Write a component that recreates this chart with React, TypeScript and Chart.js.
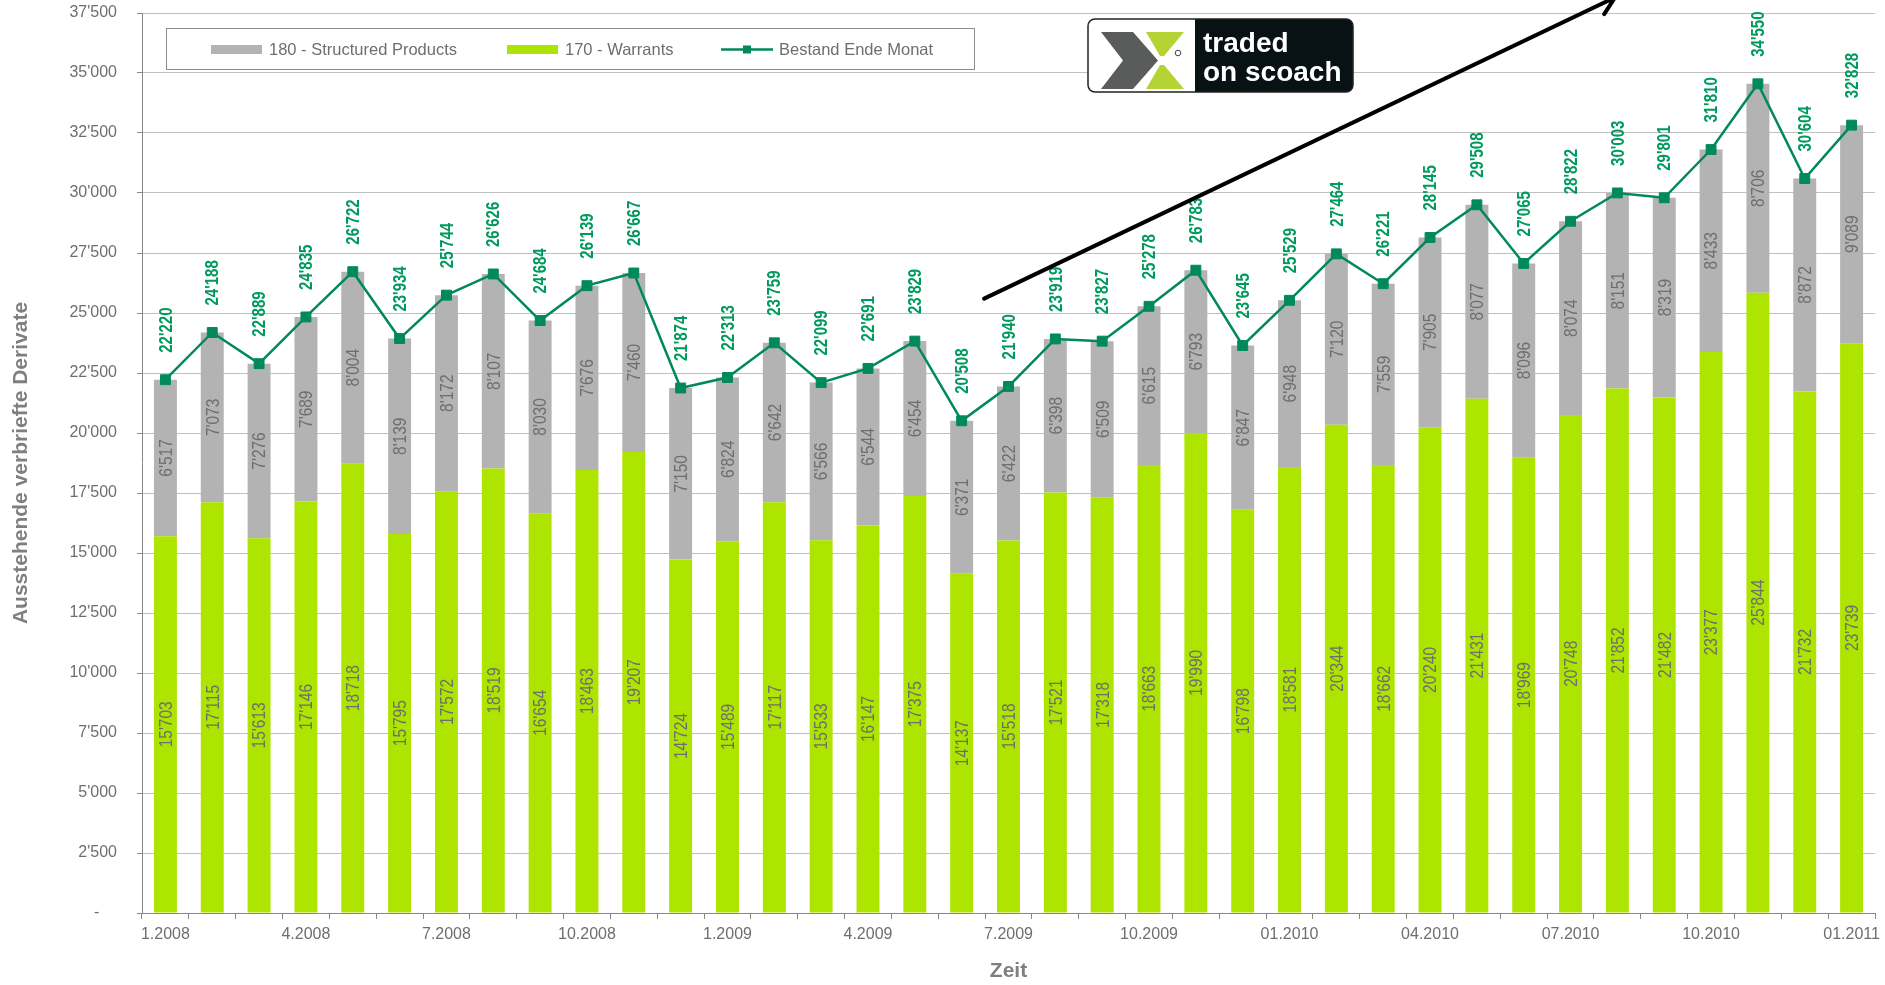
import React, { useEffect, useRef } from "react";
import { Chart, registerables } from "chart.js";

Chart.register(...registerables);

const FONT = "'Liberation Sans', Arial, Helvetica, sans-serif";

const months = [
  "1.2008", "2.2008", "3.2008", "4.2008", "5.2008", "6.2008", "7.2008", "8.2008", "9.2008", "10.2008", "11.2008", "12.2008",
  "1.2009", "2.2009", "3.2009", "4.2009", "5.2009", "6.2009", "7.2009", "8.2009", "9.2009", "10.2009", "11.2009", "12.2009",
  "01.2010", "02.2010", "03.2010", "04.2010", "05.2010", "06.2010", "07.2010", "08.2010", "09.2010", "10.2010", "11.2010", "12.2010",
  "01.2011",
];

const warrants = [
  15703, 17115, 15613, 17146, 18718, 15795, 17572, 18519, 16654, 18463, 19207, 14724,
  15489, 17117, 15533, 16147, 17375, 14137, 15518, 17521, 17318, 18663, 19990, 16798,
  18581, 20344, 18662, 20240, 21431, 18969, 20748, 21852, 21482, 23377, 25844, 21732,
  23739,
];

const structured = [
  6517, 7073, 7276, 7689, 8004, 8139, 8172, 8107, 8030, 7676, 7460, 7150,
  6824, 6642, 6566, 6544, 6454, 6371, 6422, 6398, 6509, 6615, 6793, 6847,
  6948, 7120, 7559, 7905, 8077, 8096, 8074, 8151, 8319, 8433, 8706, 8872,
  9089,
];

const totals = [
  22220, 24188, 22889, 24835, 26722, 23934, 25744, 26626, 24684, 26139, 26667, 21874,
  22313, 23759, 22099, 22691, 23829, 20508, 21940, 23919, 23827, 25278, 26783, 23645,
  25529, 27464, 26221, 28145, 29508, 27065, 28822, 30003, 29801, 31810, 34550, 30604,
  32828,
];

const seriesNames = ["180 - Structured Products", "170 - Warrants", "Bestand Ende Monat"];
const yTitle = "Ausstehende verbriefte Derivate";
const xTitle = "Zeit";

// arrow annotation anchored in data space: [categoryIndex, value]
const arrowFrom = [17.48, 25600];
const arrowTo = [30.95, 38150];

const GREEN = "#ade500";
const GREY = "#b3b3b3";
const LINE = "#008a5a";
const LABEL_GREEN = "#009a5e";
const TEXT_GREY = "#6e6e6e";
const STRETCH = 1.2;

const fmt = (n: number) => String(Math.round(n)).replace(/\B(?=(\d{3})+(?!\d))/g, "'");

const overlayPlugin = {
  id: "overlay",
  afterDatasetsDraw(chart: any) {
    const ctx = chart.ctx as CanvasRenderingContext2D;
    // inner bar labels
    [0, 1].forEach((di) => {
      const meta = chart.getDatasetMeta(di);
      const vals = chart.data.datasets[di].data as number[];
      meta.data.forEach((bar: any, i: number) => {
        const { x, y, base } = bar.getProps(["x", "y", "base"], true);
        const cy = (y + base) / 2;
        ctx.save();
        ctx.translate(x, cy);
        ctx.rotate(-Math.PI / 2);
        ctx.scale(1, STRETCH);
        ctx.font = `15.5px ${FONT}`;
        ctx.fillStyle = TEXT_GREY;
        ctx.textAlign = "center";
        ctx.textBaseline = "middle";
        ctx.fillText(fmt(vals[i]), 0, 1);
        ctx.restore();
      });
    });
    // totals above line points
    const lm = chart.getDatasetMeta(2);
    const tv = chart.data.datasets[2].data as number[];
    lm.data.forEach((pt: any, i: number) => {
      ctx.save();
      ctx.translate(pt.x, pt.y - 27);
      ctx.rotate(-Math.PI / 2);
      ctx.scale(1, STRETCH);
      ctx.font = `bold 15px ${FONT}`;
      ctx.fillStyle = LABEL_GREEN;
      ctx.textAlign = "left";
      ctx.textBaseline = "middle";
      ctx.fillText(fmt(tv[i]), 0, 1);
      ctx.restore();
    });
  },
  afterDraw(chart: any) {
    const ctx = chart.ctx as CanvasRenderingContext2D;
    const xs = chart.scales.x;
    const ys = chart.scales.y;

    // arrow
    const x1 = xs.getPixelForValue(arrowFrom[0]);
    const y1 = ys.getPixelForValue(arrowFrom[1]);
    const x2 = xs.getPixelForValue(arrowTo[0]);
    const y2 = ys.getPixelForValue(arrowTo[1]);
    ctx.save();
    ctx.strokeStyle = "#000";
    ctx.lineWidth = 4;
    ctx.lineCap = "round";
    ctx.beginPath();
    ctx.moveTo(x1, y1);
    ctx.lineTo(x2, y2);
    const ang = Math.atan2(y2 - y1, x2 - x1);
    const hl = 20;
    ctx.moveTo(x2, y2);
    ctx.lineTo(x2 - hl * Math.cos(ang - 0.55), y2 - hl * Math.sin(ang - 0.55));
    ctx.moveTo(x2, y2);
    ctx.lineTo(x2 - hl * Math.cos(ang + 0.55), y2 - hl * Math.sin(ang + 0.55));
    ctx.stroke();
    ctx.restore();

    // legend box
    ctx.save();
    ctx.fillStyle = "#fff";
    ctx.fillRect(166.5, 28.5, 808, 41);
    ctx.strokeStyle = "#8c8c8c";
    ctx.lineWidth = 1;
    ctx.strokeRect(166.5, 28.5, 808, 41);
    ctx.font = `16.5px ${FONT}`;
    ctx.textBaseline = "middle";
    ctx.textAlign = "left";
    ctx.fillStyle = GREY;
    ctx.fillRect(211, 45, 51, 9);
    ctx.fillStyle = TEXT_GREY;
    ctx.fillText(seriesNames[0], 269, 50);
    ctx.fillStyle = GREEN;
    ctx.fillRect(507, 45, 51, 9);
    ctx.fillStyle = TEXT_GREY;
    ctx.fillText(seriesNames[1], 565, 50);
    ctx.strokeStyle = LINE;
    ctx.lineWidth = 2.5;
    ctx.beginPath();
    ctx.moveTo(721, 49.5);
    ctx.lineTo(773, 49.5);
    ctx.stroke();
    ctx.fillStyle = LINE;
    ctx.fillRect(743, 45.5, 8, 8);
    ctx.fillStyle = TEXT_GREY;
    ctx.fillText(seriesNames[2], 779, 50);
    ctx.restore();

    // logo
    ctx.save();
    const lx = 1088, ly = 19, lw = 265, lh = 73, r = 7;
    ctx.beginPath();
    ctx.roundRect(lx, ly, lw, lh, r);
    ctx.fillStyle = "#fff";
    ctx.fill();
    ctx.beginPath();
    ctx.roundRect(1195, ly, lx + lw - 1195, lh, [0, r, r, 0]);
    ctx.fillStyle = "#081214";
    ctx.fill();
    ctx.beginPath();
    ctx.roundRect(lx, ly, lw, lh, r);
    ctx.strokeStyle = "#222";
    ctx.lineWidth = 1.5;
    ctx.stroke();
    // lime chevrons
    ctx.fillStyle = "#b5d334";
    ctx.beginPath();
    ctx.moveTo(1146, 32); ctx.lineTo(1184, 32); ctx.lineTo(1164, 56); ctx.lineTo(1160, 56);
    ctx.closePath();
    ctx.fill();
    ctx.beginPath();
    ctx.moveTo(1146, 89); ctx.lineTo(1184, 89); ctx.lineTo(1164, 65); ctx.lineTo(1160, 65);
    ctx.closePath();
    ctx.fill();
    // grey chevron
    ctx.fillStyle = "#5a5c5c";
    ctx.beginPath();
    ctx.moveTo(1101, 32); ctx.lineTo(1133, 32); ctx.lineTo(1158, 60.5); ctx.lineTo(1133, 89);
    ctx.lineTo(1101, 89); ctx.lineTo(1123, 60.5);
    ctx.closePath();
    ctx.fill();
    // registered mark
    ctx.strokeStyle = "#444";
    ctx.lineWidth = 1;
    ctx.beginPath();
    ctx.arc(1178, 53, 2.8, 0, Math.PI * 2);
    ctx.stroke();
    // text
    ctx.fillStyle = "#fff";
    ctx.textAlign = "left";
    ctx.textBaseline = "alphabetic";
    ctx.font = `bold 28px ${FONT}`;
    ctx.fillText("traded", 1203, 51.5);
    ctx.fillText("on scoach", 1203, 81);
    ctx.restore();
  },
};

export default function App() {
  const ref = useRef<HTMLCanvasElement | null>(null);

  useEffect(() => {
    document.body.style.margin = "0";
    const canvas = ref.current;
    if (!canvas) return;
    Chart.defaults.font.family = FONT;
    const chart = new Chart(canvas, {
      type: "bar",
      data: {
        labels: months,
        datasets: [
          {
            type: "bar",
            label: seriesNames[1],
            data: warrants,
            backgroundColor: GREEN,
            stack: "s",
            order: 1,
            categoryPercentage: 1,
            barPercentage: 0.49,
          },
          {
            type: "bar",
            label: seriesNames[0],
            data: structured,
            backgroundColor: GREY,
            stack: "s",
            order: 1,
            categoryPercentage: 1,
            barPercentage: 0.49,
          },
          {
            type: "line",
            label: seriesNames[2],
            data: totals,
            borderColor: LINE,
            backgroundColor: LINE,
            borderWidth: 2.5,
            pointStyle: "rect",
            pointRadius: 7,
            pointBorderWidth: 1,
            pointBackgroundColor: LINE,
            pointBorderColor: LINE,
            tension: 0,
            order: 0,
          } as any,
        ],
      },
      options: {
        responsive: false,
        maintainAspectRatio: false,
        animation: false,
        devicePixelRatio: 1,
        layout: { padding: { top: 13, right: 10, left: 0, bottom: 0 } },
        plugins: {
          legend: { display: false },
          tooltip: { enabled: false },
        },
        scales: {
          x: {
            stacked: true,
            offset: true,
            grid: {
              display: true,
              drawOnChartArea: false,
              drawTicks: true,
              tickLength: 6,
              offset: true,
              color: "#888",
            },
            border: { display: true, color: "#888", width: 1 },
            ticks: {
              autoSkip: false,
              maxRotation: 0,
              minRotation: 0,
              padding: 6,
              color: TEXT_GREY,
              font: { size: 16, family: FONT },
              callback: (_v: any, i: number) => (i % 3 === 0 ? months[i] : ""),
            },
            title: {
              display: true,
              text: xTitle,
              color: "#7f7f7f",
              font: { size: 21, weight: "bold", family: FONT },
              padding: { top: 0, bottom: 1 },
            },
            afterFit: (s: any) => {
              s.height = 72;
              s.paddingLeft = 0;
              s.paddingRight = 0;
            },
          },
          y: {
            stacked: true,
            min: 0,
            max: 37500,
            grid: {
              color: "#c0c0c0",
              tickColor: "#888",
              tickLength: 5,
              drawTicks: true,
            },
            border: { display: true, color: "#888", width: 1 },
            ticks: {
              stepSize: 2500,
              padding: 20,
              color: TEXT_GREY,
              font: { size: 16, family: FONT },
              callback: (v: any) => (Number(v) === 0 ? "-    " : fmt(Number(v))),
            },
            title: {
              display: true,
              text: yTitle,
              color: "#7f7f7f",
              font: { size: 21, weight: "bold", family: FONT },
              padding: { top: 9, bottom: 0 },
            },
            afterFit: (s: any) => {
              s.width = 142;
              s.paddingTop = 0;
              s.paddingBottom = 0;
            },
          },
        },
      } as any,
      plugins: [overlayPlugin],
    });
    return () => chart.destroy();
  }, []);

  return (
    <div style={{ position: "absolute", left: 0, top: 0, width: 1885, height: 985, background: "#fff" }}>
      <canvas ref={ref} width={1885} height={985} style={{ display: "block", width: 1885, height: 985 }} />
    </div>
  );
}
